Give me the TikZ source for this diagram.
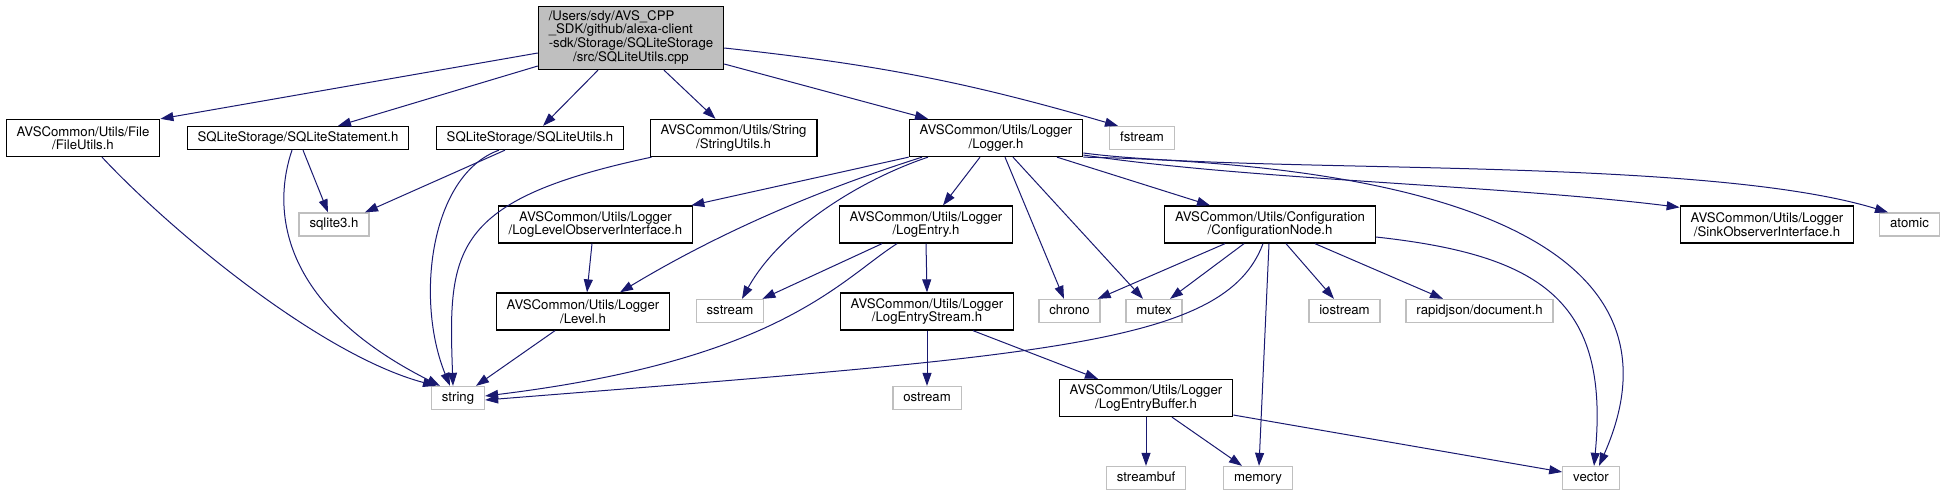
\documentclass[tikz,border=0pt]{standalone}
\usepackage{fontspec}
\setmainfont{TeX Gyre Heros}
\usetikzlibrary{arrows.meta}
\definecolor{edgeblue}{HTML}{191970}
\definecolor{grey75}{HTML}{BFBFBF}
\begin{document}
\begin{tikzpicture}[
        x=1pt, y=-1pt,
        every node/.style={font=\fontsize{13.2pt}{13.5pt}\selectfont},
        filebox/.style={rectangle, draw=black, line width=1.3pt, fill=white, align=center, inner xsep=10.4pt, inner ysep=3pt, minimum height=37pt},
        headerbox/.style={rectangle, draw=black, line width=1.3pt, fill=white, inner xsep=10.4pt, inner ysep=3pt, minimum height=23pt, text height=9.6pt, text depth=2.8pt},
        sysbox/.style={rectangle, draw=grey75, line width=1.3pt, fill=white, inner xsep=10.4pt, inner ysep=3pt, minimum height=23pt, text height=9.6pt, text depth=2.8pt},
        mainbox/.style={rectangle, draw=black, line width=1.3pt, fill=grey75, inner xsep=10.4pt, inner ysep=3pt, minimum height=63pt},
        arrow/.style={-{Triangle[length=13pt, width=9pt]}, line width=1pt, draw=edgeblue}
        ]
        \useasboundingbox (0, 0) rectangle (1946, 496);

        \node[mainbox] (main) at (631, 38) {\begin{tabular}{@{}l@{}}/Users/sdy/AVS\_CPP\\\_SDK/github/alexa-client\\-sdk/Storage/SQLiteStorage\\\multicolumn{1}{@{}c@{}}{/src/SQLiteUtils.cpp}\end{tabular}};

        \node[filebox] (fileutils) at (83, 138) {AVSCommon/Utils/File\\/FileUtils.h};
        \node[headerbox] (sqlstatement) at (298, 138) {SQLiteStorage/SQLiteStatement.h};
        \node[headerbox] (sqliteutils) at (530, 138) {SQLiteStorage/SQLiteUtils.h};
        \node[filebox] (stringutils) at (733.5, 138) {AVSCommon/Utils/String\\/StringUtils.h};
        \node[filebox] (logger) at (996, 138) {AVSCommon/Utils/Logger\\/Logger.h};
        \node[sysbox] (fstream) at (1142, 138) {fstream};

        \node[sysbox] (sqlite3) at (334, 224.5) {sqlite3.h};
        \node[filebox] (loglevelobs) at (595.5, 224.5) {AVSCommon/Utils/Logger\\/LogLevelObserverInterface.h};
        \node[filebox] (logentry) at (926, 224.5) {AVSCommon/Utils/Logger\\/LogEntry.h};
        \node[filebox] (confignode) at (1270, 224.5) {AVSCommon/Utils/Configuration\\/ConfigurationNode.h};
        \node[filebox] (sinkobs) at (1767, 224.5) {AVSCommon/Utils/Logger\\/SinkObserverInterface.h};
        \node[sysbox] (atomic) at (1909.5, 224.5) {atomic};

        \node[filebox] (level) at (583, 311.5) {AVSCommon/Utils/Logger\\/Level.h};
        \node[sysbox] (sstream) at (730, 311) {sstream};
        \node[filebox] (logentrystream) at (927, 311.5) {AVSCommon/Utils/Logger\\/LogEntryStream.h};
        \node[sysbox] (chrono) at (1069.5, 311) {chrono};
        \node[sysbox] (mutex) at (1154, 311) {mutex};
        \node[sysbox] (iostream) at (1344.5, 311) {iostream};
        \node[sysbox] (rapidjson) at (1479.5, 311) {rapidjson/document.h};

        \node[sysbox] (string) at (458, 398) {string};
        \node[sysbox] (ostream) at (927, 398) {ostream};
        \node[filebox] (logentrybuffer) at (1146, 398) {AVSCommon/Utils/Logger\\/LogEntryBuffer.h};

        \node[sysbox] (streambuf) at (1146, 478) {streambuf};
        \node[sysbox] (memory) at (1258, 478) {memory};
        \node[sysbox] (vector) at (1591, 478) {vector};

        \draw[arrow] ([yshift=-15pt]main.west) -- (fileutils.north east);
        \draw[arrow] ([yshift=-28pt]main.west) -- ([xshift=40pt]sqlstatement.north);
        \draw[arrow] ([xshift=-33pt]main.south) -- ([xshift=13pt]sqliteutils.north);
        \draw[arrow] ([xshift=33pt]main.south) -- ([xshift=-18pt]stringutils.north);
        \draw[arrow] ([yshift=-26pt]main.east) -- ([xshift=-68pt]logger.north);
        \draw[arrow] ([yshift=-10pt]main.east) to[bend left=5] ([xshift=-24pt]fstream.north);

        \draw[arrow] ([xshift=19pt]fileutils.south) .. controls (170, 230) and (320, 355) .. ([xshift=-22pt]string.north);
        \draw[arrow] ([xshift=5pt]sqlstatement.south) -- ([xshift=-6pt]sqlite3.north);
        \draw[arrow] ([xshift=-6pt]sqlstatement.south) .. controls (275, 200) and (270, 300) .. ([xshift=-18pt]string.north);
        \draw[arrow] ([xshift=-25pt]sqliteutils.south) -- ([xshift=31pt]sqlite3.north);
        \draw[arrow] ([xshift=-31pt]sqliteutils.south) .. controls (430, 175) and (415, 300) .. ([xshift=-8pt]string.north);
        \draw[arrow] ([xshift=2pt]stringutils.south west) .. controls (450, 200) and (448, 250) .. ([xshift=-5pt]string.north);

        \draw[arrow] ([xshift=-3.5pt]loglevelobs.south) -- ([xshift=4pt]level.north);
        \draw[arrow] ([xshift=-28pt]level.south) -- ([xshift=18pt]string.north);

        \draw[arrow] (logger.south west) -- ([xshift=-2pt]loglevelobs.north east);
        \draw[arrow] ([xshift=-74pt]logger.south) .. controls (850, 180) and (740, 220) .. ([xshift=37pt]level.north);
        \draw[arrow] ([xshift=-68pt]logger.south) .. controls (860, 180) and (780, 230) .. ([xshift=12pt]sstream.north);
        \draw[arrow] ([xshift=-16pt]logger.south) -- ([xshift=17pt]logentry.north);
        \draw[arrow] ([xshift=9pt]logger.south) -- ([xshift=-5.5pt]chrono.north);
        \draw[arrow] ([xshift=17pt]logger.south) -- ([xshift=-11pt]mutex.north);
        \draw[arrow] ([xshift=61pt]logger.south) -- ([xshift=-60pt]confignode.north);
        \draw[arrow] ([yshift=-17pt]logger.east) .. controls (1250, 180) and (1500, 185) .. ([yshift=-2pt]sinkobs.north west);
        \draw[arrow] ([yshift=-15pt]logger.east) .. controls (1250, 175) and (1700, 155) .. ([xshift=-21.5pt]atomic.north);
        \draw[arrow] (logger.south east) .. controls (1480, 165) and (1690, 260) .. ([xshift=8pt]vector.north);

        \draw[arrow] ([xshift=-44pt]logentry.south) -- ([xshift=-2pt]sstream.north east);
        \draw[arrow] ([xshift=-29pt]logentry.south) .. controls (840, 280) and (780, 360) .. ([yshift=2pt]string.east);
        \draw[arrow] (logentry.south) -- (logentrystream.north);
        \draw[arrow] (logentrystream.south) -- (ostream.north);
        \draw[arrow] ([xshift=46pt]logentrystream.south) -- ([xshift=-48pt]logentrybuffer.north);

        \draw[arrow] (logentrybuffer.south) -- (streambuf.north);
        \draw[arrow] ([xshift=26pt]logentrybuffer.south) -- ([xshift=-16pt]memory.north);
        \draw[arrow] ([yshift=-17pt]logentrybuffer.east) -- ([yshift=6pt]vector.west);

        \draw[arrow] ([xshift=-45pt]confignode.south) -- ([xshift=-3pt]chrono.north east);
        \draw[arrow] ([xshift=-26pt]confignode.south) -- ([xshift=16pt]mutex.north);
        \draw[arrow] ([xshift=-7pt]confignode.south) .. controls (1225, 345) and (1050, 355) .. ([yshift=-2pt]string.east);
        \draw[arrow] ([xshift=-1pt]confignode.south) -- ([xshift=1pt]memory.north);
        \draw[arrow] ([xshift=16pt]confignode.south) -- ([xshift=-10.5pt]iostream.north);
        \draw[arrow] ([xshift=45pt]confignode.south) -- ([xshift=-36.5pt]rapidjson.north);
        \draw[arrow] ([yshift=-12.5pt]confignode.east) .. controls (1540, 255) and (1610, 300) .. ([xshift=3pt]vector.north);

    \end{tikzpicture}
\end{document}
